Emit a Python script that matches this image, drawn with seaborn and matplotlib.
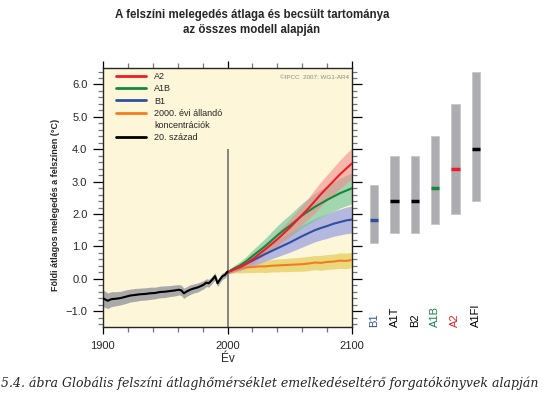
import numpy as np
import pandas as pd
import matplotlib
matplotlib.use("Agg")
import matplotlib.pyplot as plt
from matplotlib.ticker import MultipleLocator, FuncFormatter
from matplotlib.lines import Line2D
import seaborn as sns

# 20th century model mean and spread
hist_years = [1900, 1902, 1904, 1907, 1910, 1914, 1918, 1922, 1926, 1930,
              1934, 1938, 1942, 1946, 1950, 1954, 1958, 1961, 1963, 1965,
              1967, 1970, 1973, 1976, 1979, 1981, 1983, 1985, 1988, 1990,
              1992, 1994, 1996, 1998, 2000]
hist_mean = [-0.60, -0.64, -0.68, -0.63, -0.62, -0.60, -0.56, -0.52, -0.50, -0.48,
             -0.47, -0.45, -0.44, -0.41, -0.40, -0.38, -0.36, -0.34, -0.36, -0.45,
             -0.40, -0.34, -0.30, -0.27, -0.22, -0.18, -0.12, -0.14, -0.02, 0.08,
             -0.14, -0.02, 0.08, 0.12, 0.22]
hist_spread = [0.26, 0.25, 0.24, 0.23, 0.22, 0.21, 0.21, 0.20, 0.20, 0.19,
               0.19, 0.19, 0.18, 0.18, 0.18, 0.17, 0.17, 0.16, 0.16, 0.16,
               0.15, 0.15, 0.14, 0.14, 0.13, 0.13, 0.12, 0.12, 0.11, 0.11,
               0.11, 0.10, 0.10, 0.10, 0.10]

# scenario projections 2000-2100
fut_years = [2000, 2005, 2010, 2015, 2020, 2025, 2030, 2035, 2040, 2045, 2050,
             2055, 2060, 2065, 2070, 2075, 2080, 2085, 2090, 2095, 2100]
a2_mean = [0.20, 0.28, 0.37, 0.47, 0.60, 0.75, 0.90, 1.06, 1.22, 1.40, 1.58,
           1.78, 1.98, 2.18, 2.40, 2.62, 2.82, 3.02, 3.22, 3.40, 3.57]
a2_spread = [0.05, 0.08, 0.10, 0.12, 0.14, 0.16, 0.18, 0.20, 0.22, 0.24, 0.26,
             0.28, 0.30, 0.33, 0.36, 0.38, 0.40, 0.42, 0.44, 0.46, 0.48]
a1b_mean = [0.20, 0.31, 0.41, 0.54, 0.70, 0.85, 1.00, 1.17, 1.34, 1.50, 1.64,
            1.80, 1.96, 2.09, 2.22, 2.33, 2.44, 2.54, 2.64, 2.72, 2.80]
a1b_spread = [0.05, 0.09, 0.12, 0.15, 0.18, 0.21, 0.24, 0.27, 0.30, 0.32, 0.34,
              0.36, 0.38, 0.40, 0.42, 0.43, 0.44, 0.45, 0.46, 0.47, 0.48]
b1_mean = [0.20, 0.29, 0.36, 0.46, 0.56, 0.66, 0.76, 0.85, 0.94, 1.03, 1.12,
           1.22, 1.32, 1.41, 1.50, 1.57, 1.63, 1.70, 1.75, 1.80, 1.83]
b1_spread = [0.05, 0.08, 0.11, 0.14, 0.17, 0.20, 0.22, 0.24, 0.26, 0.28, 0.30,
             0.32, 0.34, 0.35, 0.36, 0.37, 0.38, 0.39, 0.40, 0.41, 0.42]
const_mean = [0.20, 0.28, 0.32, 0.35, 0.36, 0.38, 0.38, 0.40, 0.41, 0.42, 0.43,
              0.44, 0.45, 0.47, 0.50, 0.49, 0.52, 0.53, 0.56, 0.55, 0.58]
const_spread = [0.05, 0.10, 0.14, 0.16, 0.17, 0.18, 0.19, 0.19, 0.20, 0.20, 0.21,
                0.21, 0.22, 0.22, 0.22, 0.23, 0.23, 0.23, 0.24, 0.24, 0.24]

# likely ranges at 2090-2099 for the six marker scenarios
bar_names = ["B1", "A1T", "B2", "A1B", "A2", "A1FI"]
bar_best = [1.8, 2.4, 2.4, 2.8, 3.4, 4.0]
bar_low = [1.1, 1.4, 1.4, 1.7, 2.0, 2.4]
bar_high = [2.9, 3.8, 3.8, 4.4, 5.4, 6.4]
bar_colors = ["#2F4FA2", "black", "black", "#15873F", "#EE1C25", "black"]

RED, GREEN, BLUE, ORANGE = "#EE1C25", "#15873F", "#2F4FA2", "#F47B20"

sns.set_style("ticks")
plt.rcParams["font.family"] = ["Liberation Sans", "DejaVu Sans"]

fig = plt.figure(figsize=(5.51, 3.96), dpi=100)
ax = fig.add_axes([0.1864, 0.1735, 0.453, 0.654])
ax.set_facecolor("#FDF6D8")

hm, hs = np.array(hist_mean), np.array(hist_spread)
ax.fill_between(hist_years, hm - hs, hm + hs, color="#A9A9A9", lw=0, zorder=1)

bands = [(const_mean, const_spread, "#E6CF5E", 0.75),
         (b1_mean, b1_spread, "#A9ADE0", 0.85),
         (a1b_mean, a1b_spread, "#72C69A", 0.65),
         (a2_mean, a2_spread, "#F28C8C", 0.6)]
for m, s, c, a in bands:
    m, s = np.array(m), np.array(s)
    ax.fill_between(fut_years, m - s, m + s, color=c, alpha=a, lw=0, zorder=1)

ax.vlines(2000, -1.5, 4.0, color="#707070", lw=1.2, zorder=1.5)

future = pd.concat([
    pd.DataFrame({"year": fut_years, "value": const_mean, "scen": "const"}),
    pd.DataFrame({"year": fut_years, "value": b1_mean, "scen": "B1"}),
    pd.DataFrame({"year": fut_years, "value": a1b_mean, "scen": "A1B"}),
    pd.DataFrame({"year": fut_years, "value": a2_mean, "scen": "A2"}),
])
sns.lineplot(data=future, x="year", y="value", hue="scen",
             hue_order=["const", "B1", "A1B", "A2"],
             palette=[ORANGE, BLUE, GREEN, RED], lw=1.5, estimator=None,
             legend=False, ax=ax, zorder=3)
sns.lineplot(x=hist_years, y=hist_mean, color="black", lw=1.5,
             estimator=None, ax=ax, zorder=3)

ax.set_xlim(1900, 2100)
ax.set_ylim(-1.5, 6.5)
ax.set_xticks([1900, 2000, 2100])
ax.xaxis.set_minor_locator(MultipleLocator(20))
ax.set_yticks(range(-1, 7))
ax.yaxis.set_minor_locator(MultipleLocator(0.2))
ax.yaxis.set_major_formatter(FuncFormatter(lambda v, p: f"{v:.1f}".replace("-", "\u2212")))
ax.tick_params(which="both", direction="out", top=True, right=True,
               labelsize=8, width=0.9, color="black")
ax.tick_params(which="major", length=7, pad=4)
ax.tick_params(which="minor", length=3.5, color="#777777")
ax.tick_params(axis="x", which="major", length=5, pad=5)
for sp in ax.spines.values():
    sp.set_linewidth(1.0)
ax.set_xlabel("Év", fontsize=8.5, labelpad=1)
ax.set_ylabel("")

handles = [Line2D([], [], color=RED, lw=2),
           Line2D([], [], color=GREEN, lw=2),
           Line2D([], [], color=BLUE, lw=2),
           Line2D([], [], color=ORANGE, lw=2),
           Line2D([], [], color="none", lw=2),
           Line2D([], [], color="black", lw=2)]
labels = ["A2", "A1B", "B1", "2000. évi állandó", "koncentrációk", "20. század"]
ax.legend(handles, labels, loc="upper left", bbox_to_anchor=(0.055, 0.985),
          frameon=False, fontsize=6.5, handlelength=3.3, handletextpad=0.9,
          labelspacing=0.35, borderpad=0, borderaxespad=0)
ax.text(0.985, 0.975, "©IPCC  2007: WG1-AR4", transform=ax.transAxes,
        ha="right", va="top", fontsize=4.5, color="#8A8A8A")

# scenario range bars on the right
bx = fig.add_axes([0.6606, 0.1735, 0.2214, 0.654], sharey=ax)
pos = np.arange(len(bar_names))
bx.bar(pos, np.subtract(bar_high, bar_low), bottom=bar_low, width=0.42,
       color="#ADADB1", edgecolor="#C4C4C6", lw=0.5)
bx.hlines(bar_best, pos - 0.21, pos + 0.21, colors=bar_colors, lw=2.5)
for i, name in enumerate(bar_names):
    bx.text(i, -1.5, name, rotation=90, ha="center", va="bottom",
            fontsize=8, color=bar_colors[i])
bx.set_xlim(-0.5, 5.5)
bx.axis("off")

fig.text(0.457, 0.977, "A felszíni melegedés átlaga és becsült tartománya\naz összes modell alapján",
         ha="center", va="top", fontsize=8.3, fontweight="bold", linespacing=1.3)
fig.text(55.5 / 551, 1 - 205 / 396, "Földi átlagos melegedés a felszínen (°C)",
         rotation=90, ha="center", va="center", fontsize=6.5, fontweight="bold")
fig.text(0.002, 1 - 383 / 396,
         "5.4. ábra Globális felszíni átlaghőmérséklet emelkedéseltérő forgatókönyvek alapján",
         ha="left", va="center", fontsize=9.0, style="italic", family="DejaVu Serif")

fig.savefig("out.png", dpi=100)
